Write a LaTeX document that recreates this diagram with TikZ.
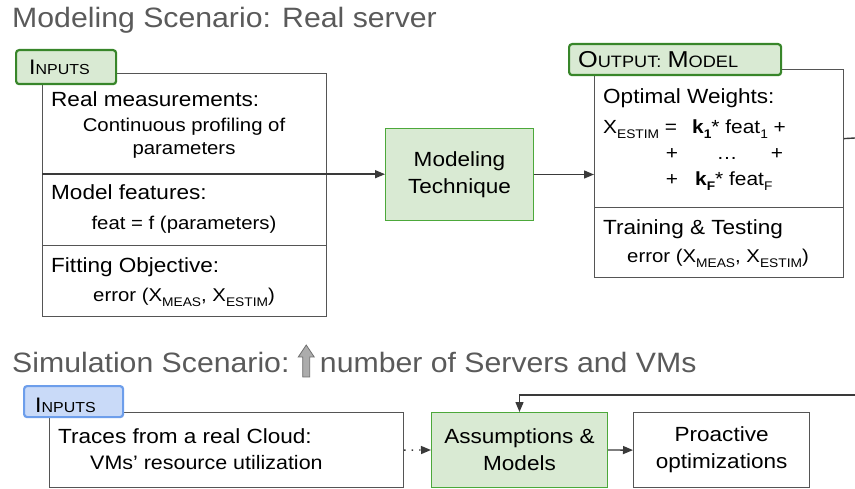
\documentclass[tikz,border=0pt]{standalone}
\usepackage{fontspec}
\setmainfont[FakeStretch=1.1]{Liberation Sans}
\newfontfamily\titlefont[FakeStretch=1.08]{Liberation Sans}
\usetikzlibrary{arrows.meta}

\definecolor{titlegray}{HTML}{5A5A5A}
\definecolor{boxline}{HTML}{555555}
\definecolor{arrowline}{HTML}{3A3A3A}
\definecolor{greenfill}{HTML}{D9EAD3}
\definecolor{greenline}{HTML}{38862A}
\definecolor{greenthin}{HTML}{4CA83A}
\definecolor{bluefill}{HTML}{C9DAF8}
\definecolor{blueline}{HTML}{6D9EEB}

\newcommand{\bodysize}{\fontsize{20.5}{27}\selectfont}
\newcommand{\subsize}{\fontsize{18.5}{22}\selectfont}
\newcommand{\rowsize}{\fontsize{19}{22}\selectfont}
\newcommand{\lowidx}[1]{\raisebox{-4.5pt}{\fontsize{12.5}{13}\selectfont #1}}
\newcommand{\tagcapA}[1]{{\fontsize{21}{22}\selectfont #1}}
\newcommand{\tagscA}[1]{{\fontsize{14.5}{16}\selectfont #1}}
\newcommand{\tagcapB}[1]{{\fontsize{23}{24}\selectfont #1}}
\newcommand{\tagscB}[1]{{\fontsize{16.5}{18}\selectfont #1}}

\tikzset{
  sect/.style={draw=boxline, line width=1.2pt, rectangle, inner sep=0pt, anchor=north west},
  plainbox/.style={sect, fill=white, align=center, font=\bodysize},
  greenbox/.style={plainbox, draw=greenthin, fill=greenfill, line width=1pt},
  tagg/.style={draw=greenline, fill=greenfill, line width=2.2pt, rounded corners=3pt,
    inner sep=0pt, anchor=north west},
  tagb/.style={tagg, draw=blueline, fill=bluefill},
  titletxt/.style={anchor=base west, inner sep=0pt, text=titlegray,
    font=\titlefont\fontsize{28}{30}\selectfont},
  txt/.style={anchor=base west, inner sep=0pt, font=\bodysize},
  subtxt/.style={anchor=base, inner sep=0pt, font=\subsize},
  rowtxt/.style={anchor=base, inner sep=0pt, font=\rowsize},
  conn/.style={draw=arrowline, line width=1.4pt, -{Triangle[length=10pt,width=8pt]}},
  plainline/.style={draw=arrowline, line width=1.4pt},
  upicon/.style={fill=gray!65, draw=gray!85!black, line width=0.8pt},
}

\begin{document}
\begin{tikzpicture}[x=1pt, y=-1pt]
\useasboundingbox (0,0) rectangle (855,489);

% ---------- Modeling scenario ----------
\node[titletxt] (title1) at (12,28) {Modeling Scenario: Real server};

% input stack
\node[plainbox, minimum width=284pt, minimum height=100pt] (in1) at (42,73) {};
\node[plainbox, minimum width=284pt, minimum height=72pt]  (in2) at (42,173) {};
\node[plainbox, minimum width=284pt, minimum height=71pt]  (in3) at (42,245) {};
\node[tagg, minimum width=100pt, minimum height=34pt] (tagin) at (15,49) {};
\node[txt] (tagintxt) at (29,75) {\tagcapA{I}\tagscA{NPUTS}};

\node[txt] (rm) at (51,107) {Real measurements:};
\node[subtxt] (rm1) at (184,132) {Continuous profiling of};
\node[subtxt] (rm2) at (184,155) {parameters};
\node[txt] (mf) at (51,200) {Model features:};
\node[subtxt] (mf1) at (184,230) {feat = f (parameters)};
\node[txt] (fo) at (51,273) {Fitting Objective:};
\node[subtxt] (fo1) at (184,302) {error (X\lowidx{MEAS}, X\lowidx{ESTIM})};

% modeling technique
\node[greenbox, minimum width=148pt, minimum height=92pt] (mt) at (385,128)
  {Modeling\\Technique};

% output stack
\node[plainbox, minimum width=249pt, minimum height=138pt] (out1) at (594,69) {};
\node[plainbox, minimum width=249pt, minimum height=70pt]  (out2) at (594,207) {};
\node[tagg, minimum width=212pt, minimum height=31pt] (tagout) at (568,43) {};
\node[txt] (tagouttxt) at (578,68)
  {\tagcapB{O}\tagscB{UTPUT:} \tagcapB{M}\tagscB{ODEL}};

\node[txt] (ow) at (603,104) {Optimal Weights:};
\node[txt, font=\rowsize] (xe) at (603,134) {X\lowidx{ESTIM} =};
\node[txt, font=\rowsize] (k1) at (692,134) {\textbf{k\lowidx{1}}* feat\lowidx{1} +};
\node[rowtxt] (p1) at (672,160) {+};
\node[rowtxt] (dots) at (727,160) {\ldots};
\node[rowtxt] (p2) at (777,160) {+};
\node[rowtxt] (p3) at (672,186) {+};
\node[txt, font=\rowsize] (kf) at (695,186) {\textbf{k\lowidx{F}}* feat\lowidx{F}};
\node[txt] (tt) at (603,235) {Training \& Testing};
\node[subtxt] (tt1) at (718,263) {error (X\lowidx{MEAS}, X\lowidx{ESTIM})};

% connectors
\draw[conn] (in1.south west) -- (in1.south west -| mt.west);
\draw[conn] (mt.east) -- (mt.east -| out1.west);
\coordinate (fbtop) at (855,138);
\draw[plainline] (out1.east) -- (fbtop);

% ---------- Simulation scenario ----------
\node[titletxt] (title2) at (12,373) {Simulation Scenario:};
\begin{scope}[shift={(title2.base east)}]
  \filldraw[upicon] (13,4) -- (20,4) -- (20,-16) -- (24.5,-16) -- (16.5,-28)
    -- (8.5,-16) -- (13,-16) -- cycle;
\end{scope}
\node[titletxt] (title2b) at ([xshift=30pt]title2.base east) {number of Servers and VMs};

\node[plainbox, minimum width=354pt, minimum height=75pt] (trc) at (49,412) {};
\node[tagb, minimum width=99pt, minimum height=31pt] (tagbin) at (23,385) {};
\node[txt] (tagbintxt) at (35,412) {\tagcapA{I}\tagscA{NPUTS}};
\node[txt] (trc1) at (58,443) {Traces from a real Cloud:};
\node[txt, font=\fontsize{19.5}{22}\selectfont] (trc2) at (90,469) {VMs’ resource utilization};

\node[greenbox, minimum width=176pt, minimum height=75pt] (asm) at (431,412)
  {Assumptions \&\\Models};
\node[plainbox, minimum width=176pt, minimum height=75pt] (pro) at (633,412)
  {Proactive\\optimizations};

\draw[conn, dash pattern=on 1.5pt off 6pt] (trc.east) -- (asm.west);
\draw[conn] (asm.east) -- (pro.west);
\coordinate (fbbot) at (855,395);
\draw[conn] (fbbot) -- (fbbot -| asm.north) -- (asm.north);
\end{tikzpicture}
\end{document}
